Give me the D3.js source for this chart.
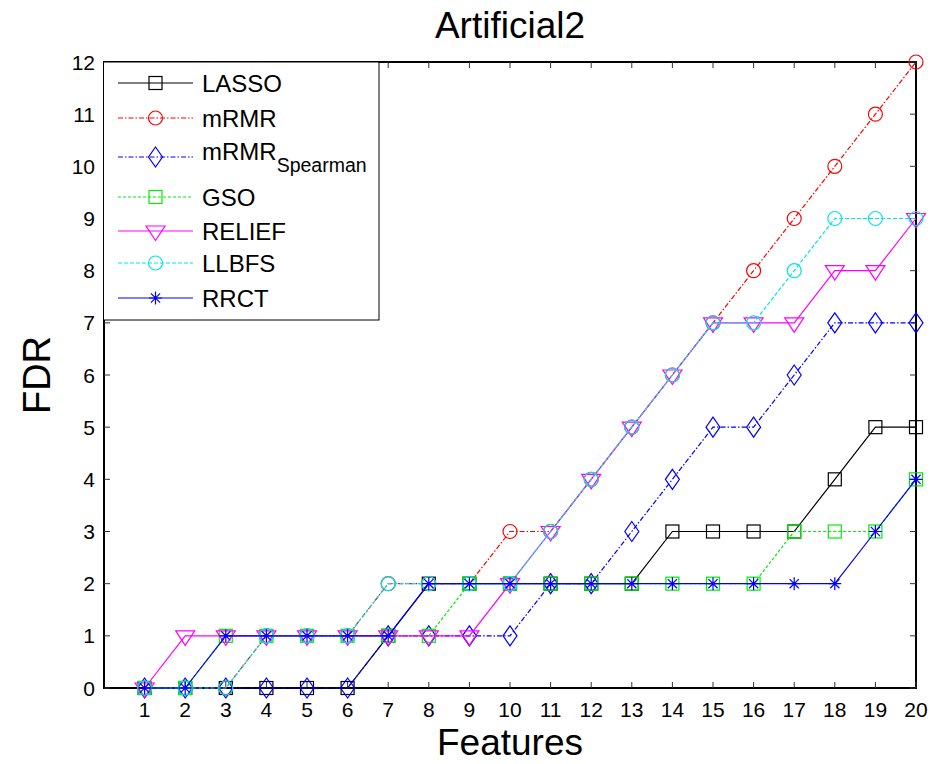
<!DOCTYPE html>
<html lang="en">
<head>
<meta charset="utf-8">
<title>Artificial2</title>
<script src="https://d3js.org/d3.v7.min.js"></script>
<style>
  body { margin: 0; background: #fff; }
  text { font-family: Arial, "Liberation Sans", sans-serif; fill: #000; }
</style>
</head>
<body>
<script>
// data
var features = d3.range(1, 21);
var names = ["LASSO", "mRMR", "mRMR_Spearman", "GSO", "RELIEF", "LLBFS", "RRCT"];
var lasso    = [0,0,0,0,0,0,1,2,2,2,2,2,2,3,3,3,3,4,5,5];
var mrmr     = [0,0,0,1,1,1,2,2,2,3,3,4,5,6,7,8,9,10,11,12];
var spearman = [0,0,0,0,0,0,1,1,1,1,2,2,3,4,5,5,6,7,7,7];
var gso      = [0,0,1,1,1,1,1,1,2,2,2,2,2,2,2,2,3,3,3,4];
var relief   = [0,1,1,1,1,1,1,1,1,2,3,4,5,6,7,7,7,8,8,9];
var llbfs    = [0,0,0,1,1,1,2,2,2,2,3,4,5,6,7,7,8,9,9,9];
var rrct     = [0,0,1,1,1,1,1,2,2,2,2,2,2,2,2,2,2,2,3,4];
var yTicks = d3.range(0, 13);

var series = [
  {name: "LASSO", values: lasso, color: "#000000", dash: null, marker: "square"},
  {name: "mRMR", values: mrmr, color: "#ff0000", dash: "5,2,1.5,2", marker: "circle"},
  {name: "mRMR_Spearman", values: spearman, color: "#0000ff", dash: "5,2,1.5,2", marker: "diamond"},
  {name: "GSO", values: gso, color: "#00ee00", dash: "3,2", marker: "square"},
  {name: "RELIEF", values: relief, color: "#ff00ff", dash: null, marker: "triangle"},
  {name: "LLBFS", values: llbfs, color: "#00e6e6", dash: "4,2", marker: "circle"},
  {name: "RRCT", values: rrct, color: "#0000ff", dash: null, marker: "star"}
];

var width = 933, height = 764;
var margin = {left: 104, right: 17, top: 62, bottom: 76};

var svg = d3.select("body").append("svg")
  .attr("width", width)
  .attr("height", height);

var x = d3.scaleLinear().domain([0, 20]).range([margin.left, width - margin.right]);
var y = d3.scaleLinear().domain([0, 12]).range([height - margin.bottom, margin.top]);

// marker shapes, MATLAB-ish
function marker(g, type, cx, cy, color) {
  if (type == "square") {
    g.append("rect").attr("x", cx - 6.5).attr("y", cy - 6.5).attr("width", 13).attr("height", 13)
      .attr("fill", "none").attr("stroke", color).attr("stroke-width", 1.2);
  } else if (type == "circle") {
    g.append("circle").attr("cx", cx).attr("cy", cy).attr("r", 7)
      .attr("fill", "none").attr("stroke", color).attr("stroke-width", 1.2);
  } else if (type == "diamond") {
    g.append("path").attr("d", "M" + cx + "," + (cy - 10) + "L" + (cx + 7) + "," + cy + "L" + cx + "," + (cy + 10) + "L" + (cx - 7) + "," + cy + "Z")
      .attr("fill", "none").attr("stroke", color).attr("stroke-width", 1.2);
  } else if (type == "triangle") {
    g.append("path").attr("d", "M" + (cx - 9.5) + "," + (cy - 5) + "L" + (cx + 9.5) + "," + (cy - 5) + "L" + cx + "," + (cy + 9.5) + "Z")
      .attr("fill", "none").attr("stroke", color).attr("stroke-width", 1.2);
  } else if (type == "star") {
    var r = 6.5, d = 4.6;
    g.append("path").attr("d",
      "M" + cx + "," + (cy - r) + "V" + (cy + r) +
      "M" + (cx - r) + "," + cy + "H" + (cx + r) +
      "M" + (cx - d) + "," + (cy - d) + "L" + (cx + d) + "," + (cy + d) +
      "M" + (cx - d) + "," + (cy + d) + "L" + (cx + d) + "," + (cy - d))
      .attr("fill", "none").attr("stroke", color).attr("stroke-width", 1.2);
  }
}

// frame
svg.append("rect")
  .attr("x", x(0)).attr("y", y(12))
  .attr("width", x(20) - x(0)).attr("height", y(0) - y(12))
  .attr("fill", "none").attr("stroke", "#000").attr("stroke-width", 2);

// ticks (inside), bottom+top and left+right
var tk = svg.append("g").attr("stroke", "#333").attr("stroke-width", 1);
features.forEach(function(f) {
  tk.append("line").attr("x1", x(f)).attr("x2", x(f)).attr("y1", y(0)).attr("y2", y(0) - 6);
  tk.append("line").attr("x1", x(f)).attr("x2", x(f)).attr("y1", y(12)).attr("y2", y(12) + 6);
});
yTicks.forEach(function(t) {
  tk.append("line").attr("x1", x(0)).attr("x2", x(0) + 6).attr("y1", y(t)).attr("y2", y(t));
  tk.append("line").attr("x1", x(20)).attr("x2", x(20) - 6).attr("y1", y(t)).attr("y2", y(t));
});

svg.append("g").selectAll("text").data(features).enter().append("text")
  .attr("x", function(d) { return x(d); })
  .attr("y", y(0) + 29)
  .attr("text-anchor", "middle")
  .attr("font-size", 21)
  .text(function(d) { return d; });

svg.append("g").selectAll("text").data(yTicks).enter().append("text")
  .attr("x", x(0) - 9)
  .attr("y", function(d) { return y(d) + 7.5; })
  .attr("text-anchor", "end")
  .attr("font-size", 21)
  .text(function(d) { return d; });

// series
var line = d3.line()
  .x(function(d, i) { return x(features[i]); })
  .y(function(d) { return y(d); });

series.forEach(function(s) {
  var g = svg.append("g");
  g.append("path")
    .attr("d", line(s.values))
    .attr("fill", "none")
    .attr("stroke", s.color)
    .attr("stroke-width", 1.2)
    .attr("stroke-dasharray", s.dash);
  s.values.forEach(function(v, i) {
    marker(g, s.marker, x(features[i]), y(v), s.color);
  });
});

// legend
var lg = svg.append("g");
lg.append("rect")
  .attr("x", 103.5).attr("y", 62).attr("width", 275.5).attr("height", 258)
  .attr("fill", "#fff").attr("stroke", "#000").attr("stroke-width", 1);
var legendY = [83, 118, 157, 197, 231, 263, 298];
series.forEach(function(s, i) {
  var ly = legendY[i];
  lg.append("line")
    .attr("x1", 118).attr("x2", 193).attr("y1", ly).attr("y2", ly)
    .attr("stroke", s.color).attr("stroke-width", 1.2)
    .attr("stroke-dasharray", s.dash);
  marker(lg, s.marker, 155.5, ly, s.color);
  var t = lg.append("text").attr("x", 202).attr("font-size", 24);
  if (s.name == "mRMR_Spearman") {
    t.attr("y", ly + 3);
    t.append("tspan").text("mRMR");
    t.append("tspan").attr("dy", 12).attr("font-size", 19.5).text("Spearman");
  } else {
    t.attr("y", ly + 9).text(s.name);
  }
});

// titles
svg.append("text")
  .attr("x", 510).attr("y", 38)
  .attr("text-anchor", "middle")
  .attr("font-size", 37)
  .text("Artificial2");

svg.append("text")
  .attr("x", 510).attr("y", 755)
  .attr("text-anchor", "middle")
  .attr("font-size", 37)
  .text("Features");

svg.append("text")
  .attr("transform", "translate(50,375) rotate(-90)")
  .attr("text-anchor", "middle")
  .attr("font-size", 38)
  .text("FDR");
</script>
</body>
</html>
